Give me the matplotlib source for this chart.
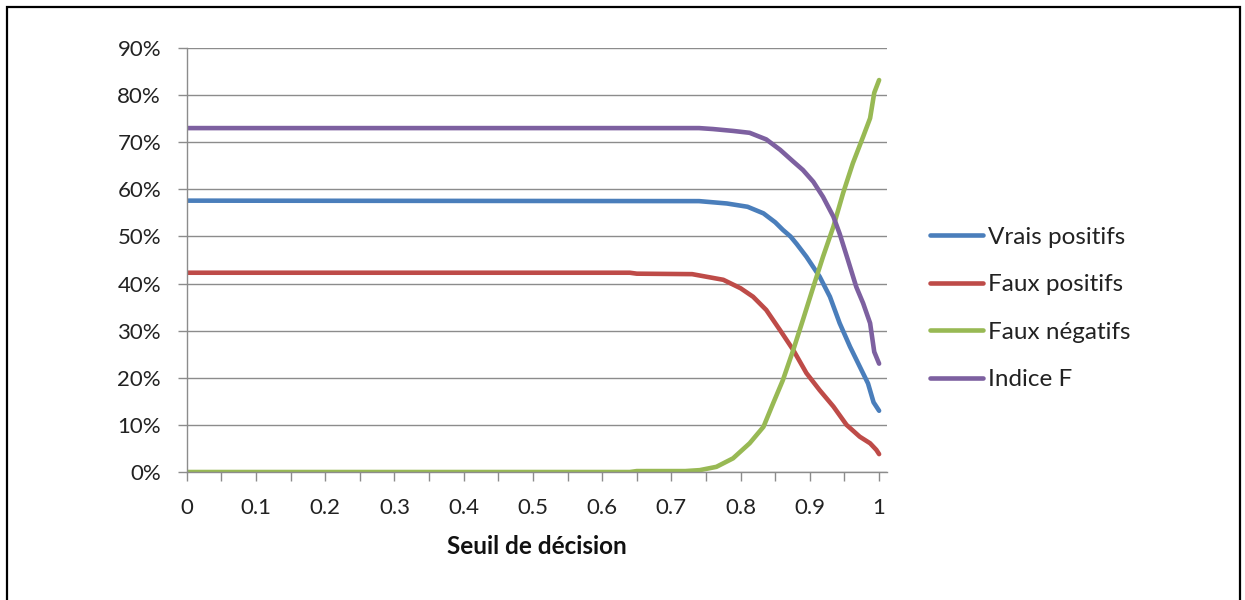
import matplotlib
matplotlib.use("Agg")
import matplotlib.pyplot as plt
from matplotlib.ticker import PercentFormatter, MultipleLocator
from matplotlib.patches import Rectangle

plt.rcParams['font.family'] = ['Lato', 'DejaVu Sans']

# Data (percent values)
x_vp = [0, 0.74, 0.78, 0.81, 0.833, 0.85, 0.861, 0.872, 0.881, 0.895, 0.914, 0.929, 0.943, 0.958, 0.972, 0.984, 0.992, 1.0]
y_vp = [57.6, 57.5, 57.0, 56.3, 54.9, 53.0, 51.4, 50.0, 48.4, 45.7, 41.5, 37.2, 31.6, 26.6, 22.4, 18.8, 14.8, 13.0]

x_fp = [0, 0.64, 0.65, 0.73, 0.775, 0.80, 0.818, 0.837, 0.857, 0.876, 0.895, 0.914, 0.934, 0.953, 0.972, 0.987, 0.996, 1.0]
y_fp = [42.3, 42.3, 42.1, 42.0, 40.8, 39.0, 37.2, 34.4, 30.1, 25.9, 21.0, 17.4, 13.9, 10.0, 7.5, 6.1, 4.7, 3.8]

x_fn = [0, 0.64, 0.65, 0.72, 0.741, 0.765, 0.789, 0.813, 0.833, 0.847, 0.861, 0.876, 0.89, 0.905, 0.919, 0.934, 0.948, 0.962, 0.977, 0.987, 0.993, 1.0]
y_fn = [0, 0, 0.2, 0.2, 0.4, 1.1, 2.9, 6.1, 9.6, 14.6, 19.5, 25.9, 32.3, 39.3, 45.7, 52.1, 59.2, 65.5, 71.2, 75.1, 80.5, 83.2]

x_f = [0, 0.74, 0.76, 0.789, 0.813, 0.837, 0.857, 0.876, 0.89, 0.905, 0.919, 0.934, 0.943, 0.955, 0.967, 0.977, 0.987, 0.993, 1.0]
y_f = [73.0, 73.0, 72.8, 72.4, 72.0, 70.6, 68.4, 65.9, 64.1, 61.6, 58.4, 54.2, 50.6, 45.0, 39.3, 35.8, 31.6, 25.5, 23.0]

labels = ["Vrais positifs", "Faux positifs", "Faux négatifs", "Indice F"]
colors = ["#4A7EBB", "#BE4B48", "#98B954", "#7D60A0"]
x_ticklabels = ["0", "0.1", "0.2", "0.3", "0.4", "0.5", "0.6", "0.7", "0.8", "0.9", "1"]

fig = plt.figure(figsize=(12.45, 6.0), dpi=100)
ax = fig.add_axes([0.15, 0.2133, 0.5625, 0.7067])

grid_c = "#8C8C8C"
for xs, ys, lab, c in zip([x_vp, x_fp, x_fn, x_f], [y_vp, y_fp, y_fn, y_f], labels, colors):
    ax.plot(xs, ys, color=c, lw=3.3, label=lab, solid_capstyle='round', solid_joinstyle='round')

ax.set_xlim(0, 1.0115)
ax.set_ylim(0, 90)
ax.yaxis.set_major_locator(MultipleLocator(10))
ax.yaxis.set_major_formatter(PercentFormatter(100, decimals=0))
ax.set_xticks([i / 10 for i in range(11)])
ax.set_xticklabels(x_ticklabels)
ax.xaxis.set_minor_locator(MultipleLocator(0.05))
ax.grid(axis='y', color=grid_c, lw=1.0)
ax.set_axisbelow(True)

for s in ['top', 'right']:
    ax.spines[s].set_visible(False)
for s in ['left', 'bottom']:
    ax.spines[s].set_color(grid_c)
    ax.spines[s].set_linewidth(1.0)

ax.tick_params(axis='both', which='both', color=grid_c, width=1.0, length=6.5, labelsize=16, labelcolor="#222222")
ax.tick_params(axis='x', which='major', pad=12.5)
ax.tick_params(axis='y', pad=12)

ax.set_xlabel("Seuil de décision", fontsize=17.5, fontweight='bold', labelpad=12, color="#111111")

leg = ax.legend(loc='center left', bbox_to_anchor=(1.0614, 0.386), frameon=False, fontsize=17.5,
                handlelength=2.18, handletextpad=0.2, labelspacing=1.09, borderpad=0, borderaxespad=0)
for t in leg.get_texts():
    t.set_color("#222222")

fig.patches.append(Rectangle((7 / 1245, -0.05), (1240 - 7) / 1245, 1.05 - 7 / 600,
                             transform=fig.transFigure, fill=False, edgecolor='black', lw=1.6))

fig.savefig("out.png", dpi=100)
